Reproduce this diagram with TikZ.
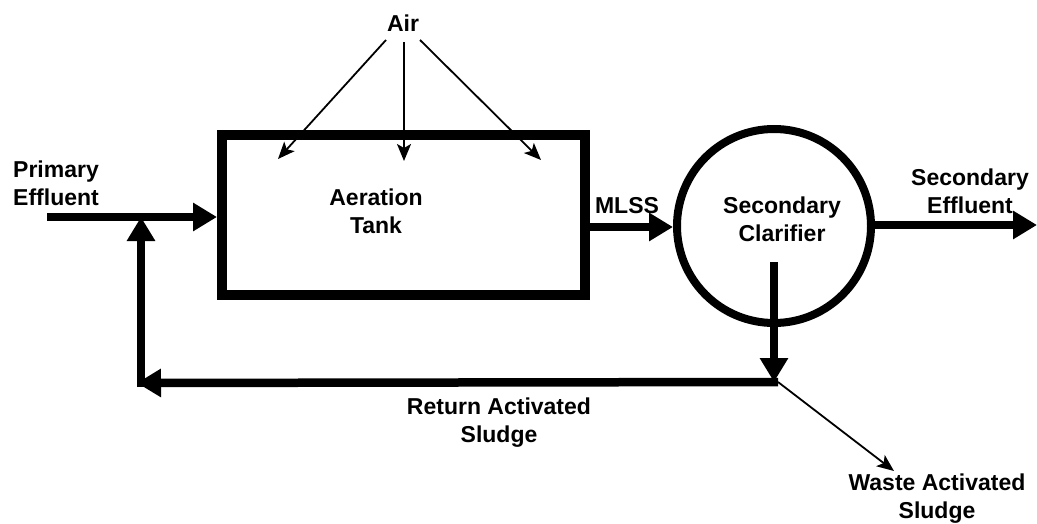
\documentclass[tikz,border=0pt]{standalone}
\usepackage{fontspec}
\setmainfont{Liberation Sans}
\usetikzlibrary{arrows.meta}
\begin{document}
\begin{tikzpicture}[x=1pt,y=-1pt,
  lbl/.style={font=\bfseries\fontsize{23}{28}\selectfont, align=center, inner sep=0pt},
  thick arrow/.style={line width=8.5pt, -{Triangle[length=24pt,width=27pt]}},
  thin arrow/.style={line width=1.8pt, -{Stealth[length=17pt,width=14pt,inset=4pt]}},
  heavy/.style={line width=8.5pt}]
\useasboundingbox (0,0) rectangle (1037,524);
% nodes
\node[draw, line width=10pt, minimum width=363pt, minimum height=160pt, inner sep=0pt] (tank) at (403.5,215) {};
\node[lbl] (tanktxt) at (376,211) {Aeration\\Tank};
\node[draw, circle, line width=8pt, minimum size=194pt, inner sep=0pt] (clar) at (774,226) {};
\node[lbl] (clartxt) at (782,219) {Secondary\\Clarifier};
\node[lbl] (air) at (403,23) {Air};
\node[lbl, align=left, anchor=west] (prim) at (13,183) {Primary\\Effluent};
\node[lbl] (mlss) at (627,206) {MLSS};
\node[lbl] (seceff) at (970,191) {Secondary\\Effluent};
\node[lbl] (ras) at (499,423) {Return Activated\\Sludge};
\node[lbl] (was) at (937,499) {Waste Activated\\Sludge};
% coordinates
\coordinate (pin) at (47,217);
\coordinate (out) at (1037,225);
\coordinate (cbot) at (774,262);
\coordinate (J) at (778,382);
\coordinate (Jv) at (774,382);
\coordinate (L) at (137,383);
\coordinate (Lv) at (141,387);
\coordinate (mix) at (141,217);
\coordinate (a1s) at (386,40);
\coordinate (a2s) at (404,42);
\coordinate (a3s) at (420,40);
\coordinate (a1) at (278,159);
\coordinate (a2) at (404,161);
\coordinate (a3) at (541,160);
\coordinate (wtip) at (894,471);
% connectors
\draw[thick arrow] (pin) -- (tank.west |- pin);
\draw[thick arrow] (tank.east |- 0,227) -- (clar.west |- 0,227);
\draw[thick arrow] (clar.east |- 0,225) -- (out);
\draw[thick arrow] (cbot) -- (Jv);
\draw[thick arrow] (J) -- (L);
\draw[thick arrow] (Lv) -- (mix);
\draw[thin arrow] (a1s) -- (a1);
\draw[thin arrow] (a2s) -- (a2);
\draw[thin arrow] (a3s) -- (a3);
\draw[thin arrow] (J) -- (wtip);
\end{tikzpicture}
\end{document}
